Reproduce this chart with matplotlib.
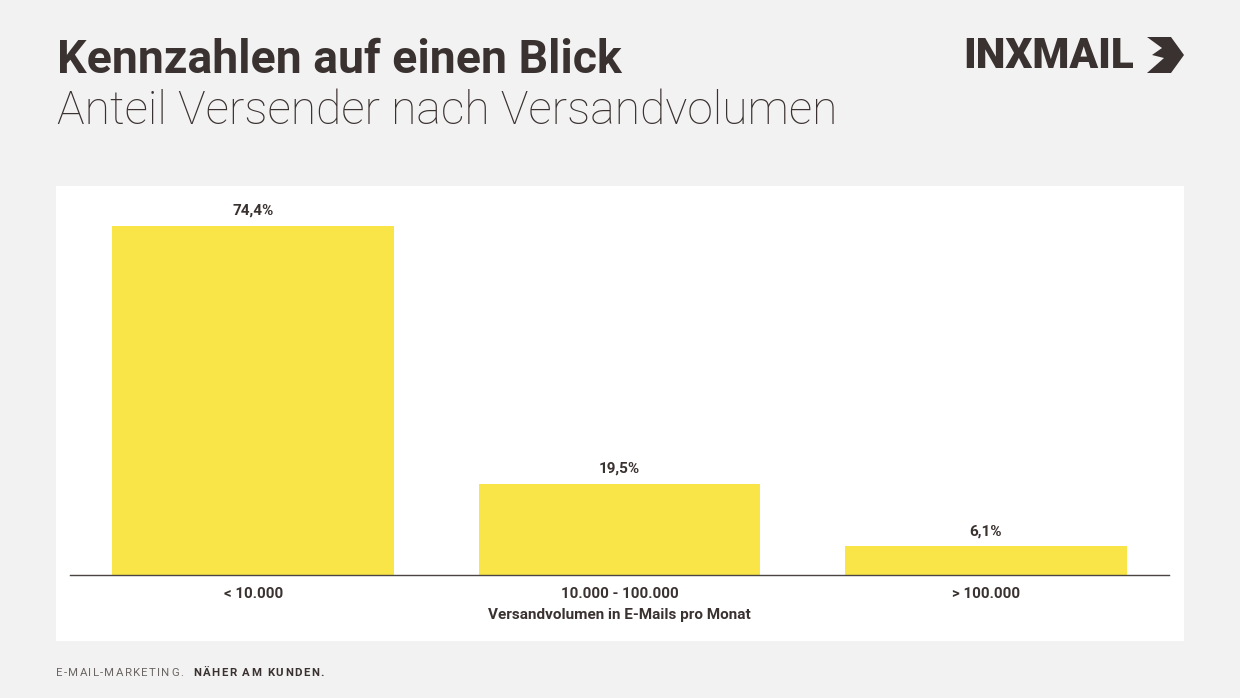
import matplotlib.pyplot as plt
from matplotlib.patches import Rectangle, Polygon

# data
categories = ["< 10.000", "10.000 - 100.000", "> 100.000"]
shares = [74.4, 19.5, 6.1]
value_labels = ["74,4%", "19,5%", "6,1%"]

W, H = 1240, 698
bg = "#f3f2f2"
dark = "#3a3230"
yellow = "#f9e547"

plt.rcParams['font.family'] = ['Roboto', 'DejaVu Sans']

fig = plt.figure(figsize=(W / 100, H / 100), dpi=100, facecolor=bg)
renderer = fig.canvas.get_renderer()


def fx(x):
    return x / W


def fy(y):
    return 1 - y / H


def fit_text(s, x, y, width, size, **kw):
    # left edge at x, baseline at y, font scaled so the text is `width` px wide
    t = fig.text(fx(x), fy(y), s, fontsize=size, va='baseline', ha='left', **kw)
    w = t.get_window_extent(renderer).width
    t.set_fontsize(size * width / w)
    return t


def spaced_text(s, x, y, size, track, **kw):
    # letter-spaced text, drawn char by char
    for ch in s:
        t = fig.text(fx(x), fy(y), ch, fontsize=size, va='baseline', ha='left', **kw)
        if ch == " ":
            w = size * 0.35
        else:
            w = t.get_window_extent(renderer).width
        x += w + track
    return x


# white panel
fig.patches.append(Rectangle((fx(56), fy(641)), (1184 - 56) / W, (641 - 186) / H,
                             transform=fig.transFigure, facecolor="white",
                             edgecolor="none", zorder=-1))

# titles
fit_text("Kennzahlen auf einen Blick", 57, 73, 563, 30, color=dark, fontweight='bold')
fit_text("Anteil Versender nach Versandvolumen", 57, 124, 781, 30, color=dark,
         fontweight='light')

# logo
fit_text("INXMAIL", 963, 68, 171, 24, color=dark, fontweight='black')
logo = [(1147, 37), (1171, 37), (1184, 55), (1171, 73), (1147, 73),
        (1164, 58), (1152, 55), (1162, 48)]
fig.patches.append(Polygon([(fx(a), fy(b)) for a, b in logo], closed=True,
                           transform=fig.transFigure, facecolor=dark,
                           edgecolor="none"))

# footer
spaced_text("E-MAIL-MARKETING.", 56, 676, 8.2, 1.3, color="#6b6563")
spaced_text("NÄHER AM KUNDEN.", 193, 676, 8.2, 1.5, color=dark, fontweight='bold')

# chart
ax = fig.add_axes([fx(70), fy(575), (1169 - 70) / W, (575 - 200) / H])
ax.set_zorder(2)
ax.set_facecolor("none")
x = range(len(categories))
bars = ax.bar(x, shares, width=0.768, color=yellow, zorder=2)
for b, lab in zip(bars, value_labels):
    ax.annotate(lab, (b.get_x() + b.get_width() / 2, b.get_height()),
                xytext=(0, 6), textcoords='offset points', ha='center',
                va='bottom', fontsize=11, fontweight='bold', color=dark)
ax.set_xlim(-0.5, 2.5)
ax.set_ylim(0, 80)
ax.set_xticks(list(x))
ax.set_xticklabels(categories, fontsize=10.8, fontweight='bold', color=dark)
ax.tick_params(axis='x', length=0, pad=9)
ax.set_yticks([])
for side in ['top', 'right', 'left']:
    ax.spines[side].set_visible(False)
ax.spines['bottom'].set_color("#4a4442")
ax.spines['bottom'].set_linewidth(1)
ax.set_xlabel("Versandvolumen in E-Mails pro Monat", fontsize=11,
              fontweight='bold', color=dark, labelpad=5)

fig.savefig("out.png", dpi=100, facecolor=bg)
